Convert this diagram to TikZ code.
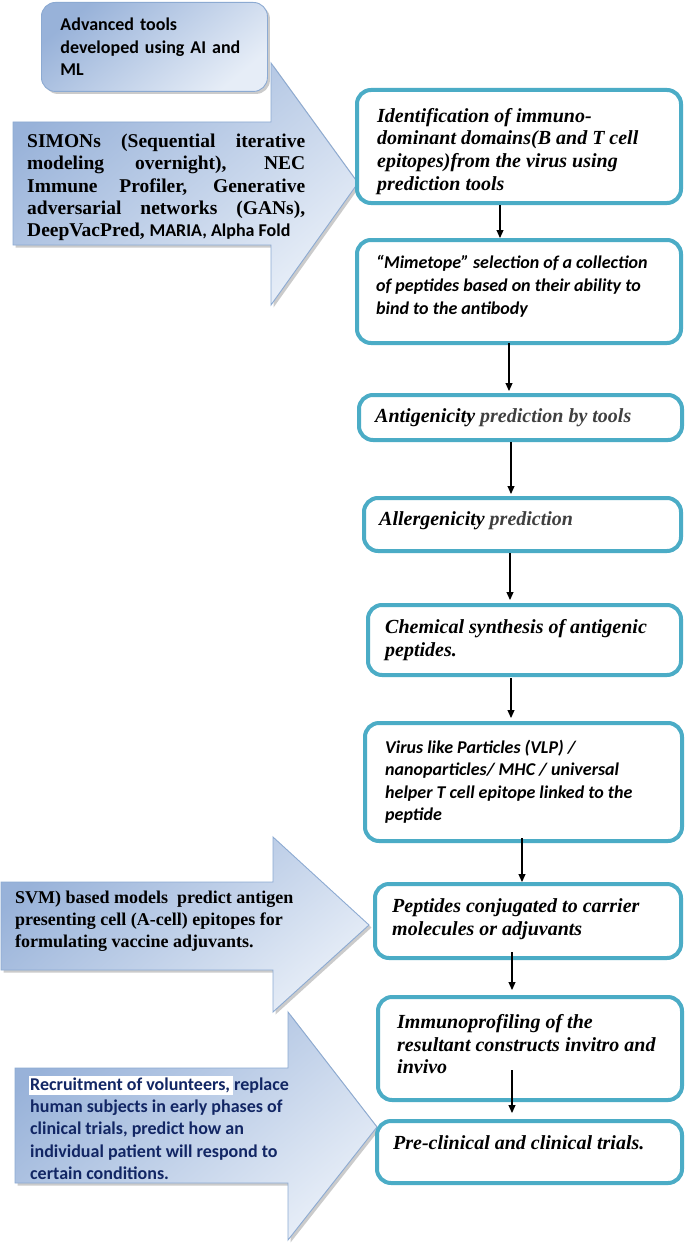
\documentclass[tikz,border=0pt]{standalone}
\usepackage{fontspec}
\setmainfont{Liberation Serif}
\newfontfamily\calfont{Carlito}
\usetikzlibrary{arrows.meta,shadows,calc}
\definecolor{boxc}{RGB}{75,172,198}
\definecolor{arrd}{RGB}{152,178,217}
\definecolor{arrl}{RGB}{230,237,247}
\definecolor{arrb}{RGB}{140,170,210}
\definecolor{navy}{RGB}{18,38,100}
\definecolor{greyt}{RGB}{64,64,64}
\newcommand\tbi{\fontsize{20}{22.6}\selectfont\bfseries\itshape}
\newcommand\cbi{\calfont\fontsize{18}{22.6}\selectfont\bfseries\itshape}
\newcommand\tbb{\fontsize{19.5}{22.4}\selectfont\bfseries}
\newcommand\tbs{\fontsize{18}{22}\selectfont\bfseries}
\newcommand\cbb{\calfont\fontsize{18}{22.3}\selectfont\bfseries}
\begin{document}
\begin{tikzpicture}[x=1pt,y=-1pt,
  flowbox/.style={draw=boxc,line width=4pt,rounded corners=14pt,fill=white,
    inner sep=0pt,outer sep=0pt,anchor=north west},
  conn/.style={-{Triangle[length=8pt,width=7pt]},line width=1.1pt,black},
  blockarrow/.style={draw=arrb,line width=0.9pt,top color=arrd,bottom color=arrl,
    shading angle=40,
    drop shadow={shadow xshift=2.5pt,shadow yshift=-2.5pt,fill=black!45,opacity=0.45}},
  ttext/.style={anchor=north west,inner sep=0pt,align=left,font=\tbi},
  ctext/.style={anchor=north west,inner sep=0pt,align=left,font=\cbi}]
\useasboundingbox (0,0) rectangle (688,1244);
\fill[white] (0,0) rectangle (688,1244);

% block arrows
\path[blockarrow] (13,122) -- (271,122) -- (271,63) -- (358,183) -- (271,305)
  -- (271,245) -- (13,245) -- cycle;
\path[blockarrow] (1,882) -- (273,882) -- (273,837) -- (369,925) -- (273,1012)
  -- (273,970) -- (1,970) -- cycle;
\path[blockarrow] (15,1068) -- (288,1068) -- (288,1012) -- (377,1127) -- (288,1240)
  -- (288,1183) -- (15,1183) -- cycle;

% top rounded box
\node[anchor=north west,draw=arrb,line width=0.9pt,rounded corners=14pt,
  top color=arrd,bottom color=arrl,shading angle=40,
  drop shadow={shadow xshift=2.5pt,shadow yshift=-2.5pt,fill=black!45,opacity=0.45},
  minimum width=226pt,minimum height=89pt,inner xsep=19pt,inner ysep=0pt,
  text width=188pt,align=left,font=\cbb] (adv) at (41,2)
  {Advanced tools\\developed using AI and\\ML};

% arrow texts
\node[anchor=north west,inner sep=0pt,align=left,font=\tbb] (simons) at (27,133.5)
  {\makebox[278pt][s]{SIMONs (Sequential iterative}\\
   \makebox[278pt][s]{modeling overnight), NEC}\\
   \makebox[278pt][s]{Immune Profiler, Generative}\\
   \makebox[278pt][s]{adversarial networks (GANs),}\\
   DeepVacPred, {\calfont\fontsize{18}{22.4}\selectfont MARIA, Alpha Fold}};
\node[anchor=north west,inner sep=0pt,align=left,font=\tbs] (svm) at (15,890.5)
  {SVM) based models\ \ predict antigen\\
   presenting cell (A-cell) epitopes for\\
   formulating vaccine adjuvants.};
\fill[white] (29,1076) rectangle (233,1095);
\node[anchor=north west,inner sep=0pt,align=left,font=\cbb,text=navy] (recr) at (30,1077.5)
  {Recruitment of volunteers, replace\\
   human subjects in early phases of\\
   clinical trials, predict how an\\
   individual patient will respond to\\
   certain conditions.};

% flow boxes
\node[flowbox,minimum width=324pt,minimum height=113pt] (b1) at (357,90) {};
\node[flowbox,minimum width=324pt,minimum height=103pt] (b2) at (357,240) {};
\node[flowbox,minimum width=323pt,minimum height=45pt] (b3) at (359,395) {};
\node[flowbox,minimum width=317pt,minimum height=53pt] (b4) at (364,498) {};
\node[flowbox,minimum width=313pt,minimum height=70pt] (b5) at (368,605) {};
\node[flowbox,minimum width=317pt,minimum height=118pt] (b6) at (365,723) {};
\node[flowbox,minimum width=306pt,minimum height=74pt] (b7) at (375,884) {};
\node[flowbox,minimum width=304pt,minimum height=103pt] (b8) at (378,997) {};
\node[flowbox,minimum width=305pt,minimum height=62pt] (b9) at (377,1121) {};

% box texts
\node[ttext] (t1) at (377,108) {Identification of immuno-\\dominant domains(B and T cell\\epitopes)from the virus using\\prediction tools};
\node[ctext] (t2) at (376,255.5) {“Mimetope” selection of a collection\\of peptides based on their ability to\\bind to the antibody};
\node[ttext] (t3) at (375,408.5) {Antigenicity {\color{greyt}prediction by tools}};
\node[ttext] (t4) at (379,511.5) {Allergenicity {\color{greyt}prediction}};
\node[ttext] (t5) at (385,619.5) {Chemical synthesis of antigenic\\peptides.};
\node[ctext] (t6) at (385,739.5) {Virus like Particles (VLP) /\\nanoparticles/ MHC / universal\\helper T cell epitope linked to the\\peptide};
\node[ttext] (t7) at (392,898.5) {Peptides conjugated to carrier\\molecules or adjuvants};
\node[ttext] (t8) at (397,1014.5) {Immunoprofiling of the\\resultant constructs invitro and\\invivo};
\node[ttext] (t9) at (393,1135.5) {Pre-clinical and clinical trials.};

% connector columns
\coordinate (x1) at (500,0);
\coordinate (x2) at (509,0);
\coordinate (x3) at (511,0);
\coordinate (x4) at (510,0);
\coordinate (x5) at (511,0);
\coordinate (x6) at (522,0);
\coordinate (x7) at (512,0);
\coordinate (x8) at (512,0);

% connectors (y grows downward: +y is down)
\draw[conn] ($(b1.south -| x1)+(0,2)$) -- ($(b2.north -| x1)+(0,-2)$);
\draw[conn] ($(b2.south -| x2)+(0,0)$) -- ($(b3.north -| x2)+(0,-4)$);
\draw[conn] ($(b3.south -| x3)+(0,2)$) -- ($(b4.north -| x3)+(0,-4)$);
\draw[conn] ($(b4.south -| x4)+(0,2)$) -- ($(b5.north -| x4)+(0,-5)$);
\draw[conn] ($(b5.south -| x5)+(0,3)$) -- ($(b6.north -| x5)+(0,-5)$);
\draw[conn] ($(b6.south -| x6)+(0,-3)$) -- ($(b7.north -| x6)+(0,-2)$);
\draw[conn] ($(b7.south -| x7)+(0,-6)$) -- ($(b8.north -| x7)+(0,-7)$);
\draw[conn] ($(b8.south -| x8)+(0,-30)$) -- ($(b9.north -| x8)+(0,-8)$);
\end{tikzpicture}
\end{document}
